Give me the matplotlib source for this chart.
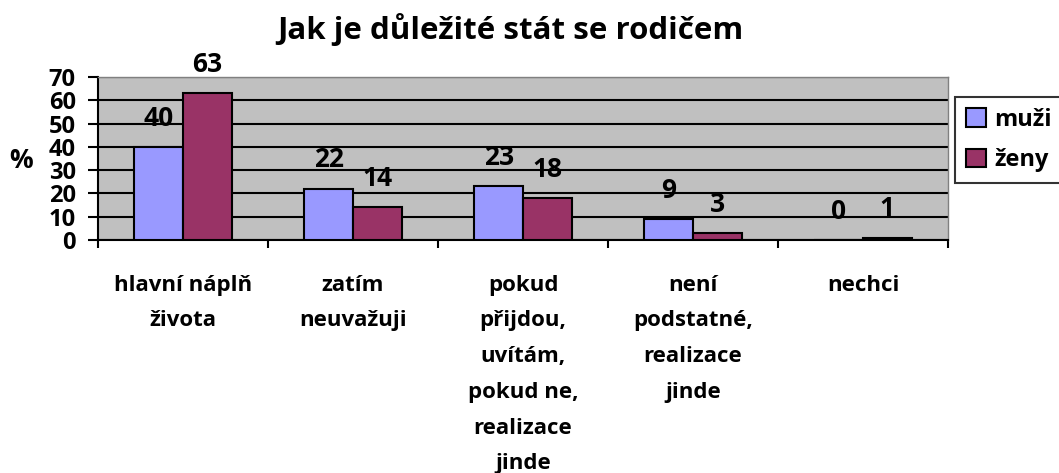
import matplotlib
matplotlib.use("Agg")
import matplotlib.pyplot as plt
import numpy as np

categories = ["hlavní náplň\nživota", "zatím\nneuvažuji",
              "pokud\npřijdou,\nuvítám,\npokud ne,\nrealizace\njinde",
              "není\npodstatné,\nrealizace\njinde", "nechci"]
muzi = [40, 22, 23, 9, 0]
zeny = [63, 14, 18, 3, 1]
series_names = ["muži", "ženy"]
title = "Jak je důležité stát se rodičem"

plt.rcParams['font.family'] = ['Open Sans', 'DejaVu Sans']
plt.rcParams['font.weight'] = 'bold'

fig = plt.figure(figsize=(10.59, 4.73), dpi=100)
ax = fig.add_axes([98/1059, 1-240/473, (948-98)/1059, (240-77)/473])
ax.set_facecolor('#C0C0C0')

x = np.arange(len(categories))
w = 1/3.5
b1 = ax.bar(x - w/2, muzi, w, color='#9999FF', edgecolor='black', linewidth=1.5, zorder=3, label=series_names[0])
b2 = ax.bar(x + w/2, zeny, w, color='#993366', edgecolor='black', linewidth=1.5, zorder=3, label=series_names[1])

for bars, vals in ((b1, muzi), (b2, zeny)):
    for r, v in zip(bars, vals):
        ax.annotate(str(v), (r.get_x() + r.get_width()/2, v), xytext=(0, 11),
                    textcoords='offset points', ha='center', va='bottom',
                    fontsize=19, fontweight='bold')

ax.set_xlim(-0.5, len(categories) - 0.5)
ax.set_ylim(0, 70)
ax.set_yticks(range(0, 71, 10))
ax.yaxis.grid(True, color='black', linewidth=1.5, zorder=1)
ax.set_axisbelow(True)
ax.set_xticks(np.arange(-0.5, len(categories)), minor=False)
ax.set_xticklabels([])
ax.tick_params(axis='x', length=6, width=1.5, direction='out')
ax.tick_params(axis='y', length=7, width=1.5, direction='out', labelsize=17, pad=9)
for lab in ax.get_yticklabels():
    lab.set_fontweight('bold')
for s in ['left', 'bottom']:
    ax.spines[s].set_linewidth(1.5)
for s in ['top', 'right']:
    ax.spines[s].set_color('#808080')
    ax.spines[s].set_linewidth(1.0)

for i, c in enumerate(categories):
    ax.annotate(c, (i, 0), xytext=(0, -25), textcoords='offset points',
                ha='center', va='top', fontsize=16, fontweight='bold', linespacing=1.92)

fig.text(21/1059, 1-160/473, "%", ha='center', va='center', fontsize=19, fontweight='bold')
fig.text(510/1059, 1-30/473, title, ha='center', va='center', fontsize=22.5, fontweight='bold')

leg = ax.legend(loc='upper left', bbox_to_anchor=(955/1059, 1-97/473), bbox_transform=fig.transFigure,
                frameon=True, fancybox=False, edgecolor='black', fontsize=17,
                handlelength=0.85, handleheight=0.85, handletextpad=0.35, borderpad=0.45,
                labelspacing=0.7, borderaxespad=0)
leg.get_frame().set_linewidth(1.5)
for t in leg.get_texts():
    t.set_fontweight('bold')

fig.savefig('out.png', dpi=100)
